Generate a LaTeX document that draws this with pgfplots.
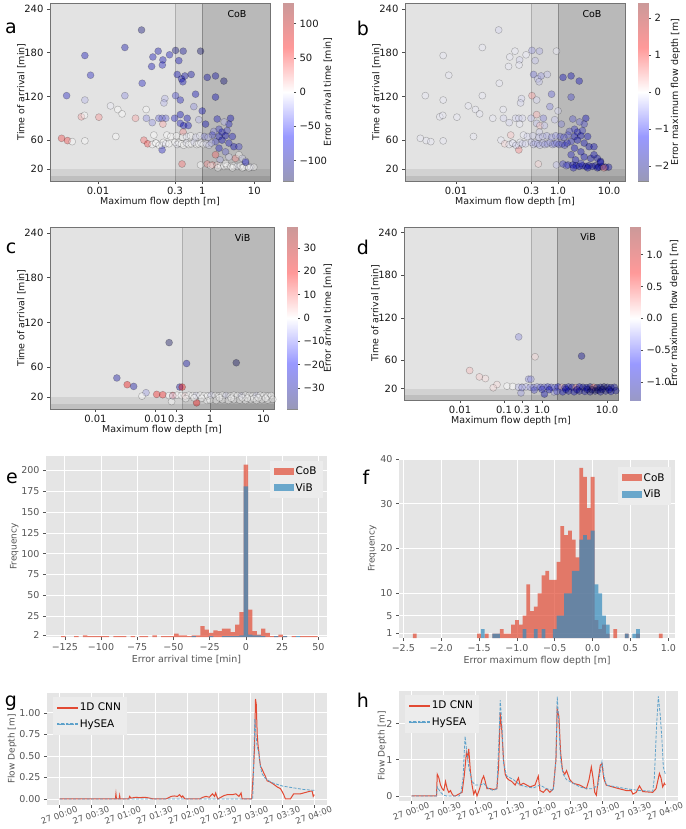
\documentclass[border=0pt]{standalone}
\usepackage{fontspec}
\setmainfont{DejaVu Sans}
\usepackage{pgfplots}
\pgfplotsset{compat=1.18}
\usepackage{pgfplotstable}

\definecolor{ggred}{HTML}{E24A33}
\definecolor{ggblue}{HTML}{348ABD}
\definecolor{hyblue}{HTML}{5DA1CA}
\definecolor{ggbg}{HTML}{E5E5E5}
\definecolor{ggtxt}{HTML}{555555}
\definecolor{ggleg}{HTML}{ECECEC}
\definecolor{spanA}{gray}{0.89}
\definecolor{spanB}{gray}{0.835}
\definecolor{spanC}{gray}{0.725}

\pgfplotsset{
 colormap={seismiclight}{rgb=(0.6,0.6,0.72) rgb=(0.6,0.6,1) rgb=(1,1,1) rgb=(1,0.6,0.6) rgb=(0.8,0.6,0.6)},
 colormap={seismicpts}{rgb=(0,0,0.3) rgb=(0,0,0.72) rgb=(1,1,1) rgb=(0.95,0,0) rgb=(0.5,0,0)},
 scat/.style={scale only axis, anchor=north west, ymin=4, ymax=248,
  ytick={20,60,120,180,240},
  axis line style={black!55}, tick align=outside, tick pos=left,
  major tick length=3pt, tick style={black!70, line width=0.5pt},
  tick label style={font=\fontsize{10}{11}\selectfont, text=black!90},
  label style={font=\fontsize{9.5}{11}\selectfont, text=black!90},
  xlabel={Maximum flow depth [m]}, ylabel={Time of arrival [min]},
  xlabel style={yshift=5pt}, ylabel style={yshift=-8pt},
  colormap name=seismicpts, axis on top,
  /pgf/number format/assume math mode=true},
 pts/.style={scatter, only marks, mark=*, mark size=3.5pt,
  scatter/use mapped color={draw=black, fill=mapped color, fill opacity=0.38, draw opacity=0.25, line width=0.5pt}},
 cbar/.style={scale only axis, anchor=north west, width=10pt, xmin=0, xmax=1, xtick=\empty,
  axis line style={black!45}, ytick pos=right, yticklabel pos=right, tick align=outside,
  major tick length=3pt, tick style={black!70, line width=0.5pt},
  tick label style={font=\fontsize{10}{11}\selectfont, text=black!90},
  label style={font=\fontsize{9.5}{11}\selectfont, text=black!90},
  colormap name=seismiclight, /pgf/number format/assume math mode=true},
 gg/.style={scale only axis, anchor=north west,
  axis background/.style={fill=ggbg}, axis line style={draw=none},
  grid=major, grid style={white, line width=0.7pt},
  tick align=outside, tick pos=left, major tick length=3pt,
  tick style={ggtxt, line width=0.6pt},
  tick label style={text=ggtxt, font=\fontsize{9.5}{11}\selectfont},
  label style={text=ggtxt, font=\fontsize{9}{11}\selectfont},
  /pgf/number format/assume math mode=true},
 gglegend/.style={legend style={at={#1}, fill=ggleg, draw=none,
    font=\fontsize{10.5}{12}\selectfont, row sep=3pt, inner sep=4pt},
    legend cell align=left},
 redbar/.style={ybar, bar width=#1, bar shift=0pt, fill=ggred, fill opacity=0.7, draw=none, area legend,
   legend image code/.code={\fill[ggred, fill opacity=0.7] (0pt,-3.5pt) rectangle (20pt,3.5pt);}},
 bluebar/.style={ybar, bar width=#1, bar shift=0pt, fill=ggblue, fill opacity=0.7, draw=none, area legend,
   legend image code/.code={\fill[ggblue, fill opacity=0.7] (0pt,-3.5pt) rectangle (20pt,3.5pt);}},
 cnnline/.style={color=ggred, line width=1pt,
   legend image code/.code={\fill[ggred] (0pt,-0.6pt) rectangle (20pt,0.6pt);}},
 hyline/.style={color=hyblue, line width=0.8pt, dash pattern=on 3pt off 1.5pt,
   legend image code/.code={\fill[hyblue] (0pt,-0.45pt) rectangle (3pt,0.45pt) (4.5pt,-0.45pt) rectangle (7.5pt,0.45pt) (9pt,-0.45pt) rectangle (12pt,0.45pt) (13.5pt,-0.45pt) rectangle (16.5pt,0.45pt) (18pt,-0.45pt) rectangle (20pt,0.45pt);}},
 tslabels/.style={xtick={0,30,60,90,120,150,180,210,240},
  xticklabels={27 00:00,27 00:30,27 01:00,27 01:30,27 02:00,27 02:30,27 03:00,27 03:30,27 04:00},
  xticklabel style={rotate=20, anchor=north, xshift=-3pt, font=\fontsize{8.5}{10}\selectfont}},
}

\newcommand{\regions}[2]{%
 \addplot[draw=none, fill=spanA, forget plot] coordinates {(#1,4) (0.3,4) (0.3,248) (#1,248)};
 \addplot[draw=none, fill=spanB, forget plot] coordinates {(0.3,4) (1,4) (1,248) (0.3,248)};
 \addplot[draw=none, fill=spanC, forget plot] coordinates {(1,4) (#2,4) (#2,248) (1,248)};
 \addplot[draw=none, fill=black, fill opacity=0.07, forget plot] coordinates {(#1,4) (#2,4) (#2,20) (#1,20)};
 \addplot[draw=none, fill=black, fill opacity=0.09, forget plot] coordinates {(#1,4) (#2,4) (#2,10.5) (#1,10.5)};
 \addplot[black, opacity=0.18, line width=0.6pt, forget plot] coordinates {(0.3,4) (0.3,248)};
 \addplot[black, opacity=0.25, line width=0.6pt, forget plot] coordinates {(1,4) (1,248)};
}

\pgfplotstableread{
x y et ed
0.0685 211 -110 -0.2
0.0328 187 -80 -0.1
0.0056 176 -70 -0.1
0.0072 149 -60 -0.1
0.0025 121 -60 -0.1
0.0056 115 -20 -0.1
0.0328 121 -30 -0.1
0.0705 138 -60 -0.1
0.143 182 -80 -0.1
0.113 174 -70 -0.1
0.107 161 -70 -0.1
0.176 170 -70 -0.2
0.172 163 -60 -0.1
0.236 177 -70 -0.1
0.308 183 -110 -0.5
0.432 182 -90 -0.4
0.356 169 -70 -0.3
0.93 182 -120 -0.1
0.331 150 -70 -0.7
0.40 144 -70 -0.3
0.465 148 -80 -0.5
0.615 150 -80 -0.3
0.425 140 -70 -0.3
1.25 146 -80 -1.2
1.8 148 -80 -1.3
2.6 141 -110 -1.2
1.8 119 -70 -0.9
0.308 121 -50 0.5
0.38 115 -60 -0.2
0.745 123 -70 -0.8
0.69 106 -30 -0.6
1.0 100 -70 -0.2
0.192 117 -20 -0.2
0.184 111 -20 -0.2
0.0174 107 -5 -0.1
0.024 102 0 -0.1
0.029 96 0 -0.1
0.0104 91.5 30 -0.1
0.0048 92 25 -0.1
0.0055 94 0 -0.1
0.0525 90 25 -0.1
0.084 102 0 -0.1
0.085 90 -30 -0.2
0.11 84 -30 -0.2
0.147 90 -40 -0.2
0.17 90 -40 -0.2
0.2 90 -40 -0.2
0.176 82 25 -0.1
0.295 90 -60 -0.3
0.38 95 -70 0.4
0.515 90 -70 -0.6
0.38 83 -60 -0.3
0.44 80 -70 0.3
0.54 80 -70 -0.3
0.43 71 30 -0.2
0.86 88 -20 -0.3
1.16 82 -70 -0.6
1.94 89 -60 -0.8
3.5 90 -70 -1.2
3.25 82 -60 -0.9
2.64 85 -20 -0.7
2.1 75 -50 -1.0
1.67 72 -30 -0.8
2.4 71 -60 -1.1
3.0 73 -50 -1.0
1.56 67 -50 -0.8
2.1 65 -60 -1.2
2.8 66 -70 -1.3
3.8 65 -60 -1.2
1.8 58 -50 -1.0
2.4 60 -70 -1.3
3.25 56 -60 -1.3
4.05 51 -70 -1.4
5.06 51 -50 -1.3
2.1 49 -60 -1.2
2.8 44 -40 -1.3
0.0020 62.5 50 -0.1
0.0026 59.4 50 -0.1
0.0032 58 0 -0.1
0.0056 59 0 -0.1
0.022 65 0 -0.1
0.076 60 40 -0.1
0.09 55 50 0.2
0.118 67 0 0.3
0.17 53 -10 -0.1
0.17 46.6 -60 0.6
0.127 56 0 -0.1
0.21 67 0 -0.1
0.11 54 0 -0.1
0.13 56 0 -0.1
0.15 53 0 -0.2
0.18 57 0 -0.1
0.2 55 -5 -0.2
0.23 55 0 -0.2
0.3 57 0 -0.3
0.33 54 -5 -0.3
0.36 56 0 -0.3
0.4 55 0 -0.4
0.44 53 0 -0.3
0.5 56 -5 -0.4
0.55 54 0 -0.4
0.62 55 0 -0.5
0.7 57 -10 -0.4
0.78 54 0 -0.5
0.86 55 0 -0.6
0.95 56 -5 -0.6
1.05 54 0 -0.7
1.2 55 -10 -0.8
1.35 53 -10 -0.9
1.5 56 -20 -1.0
0.25 65 0 -0.2
0.32 66 0 -0.2
0.42 64 0 -0.3
0.5 65 -5 -0.3
0.6 66 0 -0.4
0.75 64 -10 -0.5
0.9 66 -5 -0.5
1.1 65 -30 -0.7
1.3 64 -20 -0.8
1.8 40 40 -1.1
3.25 37 -10 -1.2
4.36 35 30 -1.4
5.06 40 0 -1.3
5.9 35 -10 -1.4
6.8 31 -20 -1.5
2.2 33 -20 -1.2
0.41 27.3 40 0.2
0.93 26 0 -0.3
1.25 27.3 30 -0.9
1.56 26 30 -1.0
1.94 26 10 -1.2
2.25 25 0 -1.3
2.6 24 0 -1.4
3.0 25 0 -1.3
3.5 24 0 -1.5
4.0 25 0 -1.5
4.7 24 -5 -1.4
5.4 25 0 -1.6
6.3 23 0 -1.7
7.3 24 0 -1.5
8.5 23 -10 -1.6
9.8 23 0 -1.5
2.0 22 0 -1.1
3.8 22 0 -1.3
5.9 22 0 -1.4
7.9 22 0 0.6
1.45 25 0 -0.8
6.79 29.6 -60 -1.3
2.8 28 0 -1.0
}\cob

\pgfplotstableread{
x y et ed
0.171 93 -38 -0.35
0.363 65 -25 0.1
3.1 66 -38 -1.0
0.0179 45.6 -25 0.2
0.028 36.6 20 0.15
0.037 34.3 -25 0.1
0.27 33.4 -25 -0.35
0.30 33.4 20 -0.3
0.063 25.8 -8 0.1
0.053 21.3 0 0.1
0.1 23.6 18 0
0.13 23.1 18 0
0.2 22.2 15 -0.1
0.19 14 0 -0.3
0.56 12.3 20 -0.8
0.87 15.5 0 -0.3
0.17 22 0 -0.2
0.2 21.5 -3 -0.3
0.24 22.5 0 -0.2
0.29 22 0 -0.3
0.34 21.5 3 -0.4
0.4 22.5 0 -0.3
0.47 22 0 -0.5
0.55 22 -3 -0.4
0.65 22.5 0 -0.6
0.77 22 0 -0.5
0.9 21.5 0 -0.4
1.05 22.5 -3 -0.7
1.25 22 0 0.2
1.45 21.5 0 -0.8
1.7 22.5 0 -0.6
2.0 22 -3 -0.9
2.4 21.5 0 0.3
2.8 22.5 0 -0.7
3.3 22 0 -1.0
3.9 21.5 -3 -0.8
4.6 22.5 0 -1.1
5.4 22 0 0.4
6.3 21.5 0 -1.2
7.4 22 -3 -1.0
8.7 22.5 0 -1.3
10.2 22 0 -1.1
12 21.5 0 -0.9
14 22 0 -1.0
1.0 16 0 -0.5
1.3 15.5 0 -0.7
1.7 16.5 0 -0.9
2.2 15.5 0 -0.8
2.8 16.5 0 -1.0
3.6 16 0 -0.9
4.6 15.5 0 -1.1
5.8 16.5 0 -1.2
6.6 18 0 -1.3
7.4 15.5 0 -1.0
9.4 16.5 0 -1.1
12 16 0 -0.8
15 17 0 -1.0
0.35 18 0 -0.5
0.5 19 0 -0.6
0.7 18.5 0 -0.7
1.5 19 0 -0.8
2.5 18.5 0 -0.9
4.0 19 0 -1.0
5.0 18.5 0 -1.3
8.0 19 0 -1.2
11 18.5 0 -1.0
}\vib

\pgfplotstableread{
x n
-126 1
-117 1
-111 2
-108 1
-105 1
-102 1
-99 1
-96 1
-90 1
-87 1
-84 1
-78 1
-72 1
-69 1
-63 2
-57 1
-54 1
-51 1
-48 4
-45 2
-42 2
-39 1
-36 2
-33 2
-30 13
-27 9
-24 5
-21 8
-18 7
-15 10
-12 10
-9 6
-6 15
-3 30
0 207
3 33
6 7
9 3
12 10
15 5
18 1
21 1
24 3
27 1
33 1
39 1
42 1
45 1
48 1
}\ecob

\pgfplotstableread{
x n
-36 1
-24 1
-15 1
-12 1
-9 1
-6 1
-3 2
0 181
3 3
6 2
9 2
12 1
21 1
27 1
36 1
}\evib

\pgfplotstableread{
x n
-2.35 1
-1.50 1
-1.40 1
-1.30 1
-1.25 1
-1.20 2
-1.15 1
-1.10 1
-1.05 3
-1.00 4
-0.95 3
-0.90 5
-0.85 12
-0.80 6
-0.75 7
-0.70 10
-0.65 14
-0.60 15
-0.55 13
-0.50 13
-0.45 17
-0.40 25
-0.35 23
-0.30 24
-0.25 22
-0.20 18
-0.15 38
-0.10 36
-0.05 29
0.00 36
0.05 4
0.10 2
0.15 3
0.20 1
0.30 2
0.45 1
0.60 1
0.90 1
}\fcob

\pgfplotstableread{
x n
-1.45 2
-1.30 1
-1.25 1
-0.90 2
-0.75 2
-0.65 2
-0.50 2
-0.45 5
-0.40 5
-0.35 10
-0.30 10
-0.25 15
-0.20 15
-0.15 22
-0.10 23
-0.05 22
0.00 24
0.05 12
0.10 10
0.15 5
0.20 3
0.45 1
0.55 1
0.60 2
}\fvib

\pgfplotstableread{
t d
0 0
52.5 0
53 0.06
53.5 0
56 0
56.5 0.04
57 0
65 0
66 0.03
67 0.01
72 0.02
75 0.015
80 0.02
85 0.01
88 0
100 0
102 0.01
105 0.03
108 0.035
111 0.03
113 0.05
115 0.02
116 0.035
118 0
132 0
135 0.02
138 0.03
141 0.02
144 0.06
146 0.03
147 0.07
149 0
155 0.04
158 0.05
163 0.05
166 0.06
169 0.03
171 0.07
172 0
181 0
182.5 0.3
183.7 0.6
184.6 1.16
185.3 1.1
186.2 0.75
187 0.62
187.7 0.55
188.5 0.45
189.3 0.38
191 0.34
192.4 0.3
194 0.26
195.6 0.21
198 0.2
201.8 0.17
205 0.14
208.1 0.12
210 0.08
211.2 0.05
212.8 0
217.5 0
219 0.03
220.6 0.06
224 0.06
227 0.06
230 0.07
233 0.08
236 0.09
238 0.09
239 0.03
240 0.05
}\gcnn

\pgfplotstableread{
t d
0 0
182 0
183 0.5
184 0.93
185 0.75
186 0.62
187.5 0.55
189 0.4
190.5 0.3
193 0.25
196 0.22
200 0.19
205 0.17
210 0.15
215 0.14
220 0.13
225 0.12
230 0.11
235 0.105
240 0.1
}\ghy

\pgfplotstableread{
t d
0 0
23.5 0
24.2 0.6
25 0.55
25.7 0.5
27.3 0.3
28.9 0.2
30.4 0.15
32 0.4
33.6 0.2
35.1 0.1
36.7 0.15
38.3 0.05
39.8 0
41.4 0
44.5 0.05
47.7 0.1
49.9 0.6
51.8 1.2
53 1.05
54 1.3
55.5 0.7
57.1 0.3
58.7 0.05
60.2 0.15
61.8 0
64.3 0.2
66.5 0.45
68.1 0.55
69.6 0.4
71.2 0.2
74.4 0.2
77.5 0.18
80.6 0.2
82.2 0.8
83.8 2.3
85.3 1.8
86.9 1.0
88.5 0.6
90 0.5
91.6 0.45
94.7 0.4
97.9 0.3
101 0.5
102.6 0.3
105.7 0.35
108.9 0.3
112 0.25
116.7 0.3
119.8 0.55
121.4 0.15
124.5 0.1
127.7 0.2
130.8 0.1
134 0.2
136.5 1.0
137.7 2.4
139.3 2.2
140.9 1.2
142.7 0.7
144.9 0.6
146.5 0.7
149.6 0.45
152.8 0.35
159.1 0.3
165.3 0.2
167.8 0.45
170 0.8
171.6 0.5
173.2 0.1
174.7 0.02
176.3 0.4
178.5 0.85
180.1 0.9
181.6 0.5
184.1 0.3
193.6 0.22
203 0.15
207.7 0.15
209.3 0.05
212.4 0.1
215.5 0.28
218.7 0.12
228.1 0.1
231.2 0.2
234.4 0.62
235.9 0.5
237.5 0.25
239.1 0.35
240 0.3
}\hcnn

\pgfplotstableread{
t d
0 0
23.5 0
24.2 0.25
27.3 0.1
30.4 0.02
33 0
45 0
46.7 0.1
48.6 0.5
50.5 1.65
51.8 1.3
54 0.8
57.1 0.4
60.2 0.3
65 0.3
68.1 0.35
72.8 0.2
77.5 0.15
80.6 0.2
82.5 1.5
83.8 2.65
85.3 2.0
86.9 0.9
90 0.55
96.3 0.45
102.6 0.3
108.9 0.25
115.1 0.22
121.4 0.3
127.7 0.2
134 0.15
136.5 1.0
137.7 2.75
139.3 2.0
140.9 1.0
143.4 0.6
146.5 0.45
152.8 0.35
159.1 0.25
165.3 0.2
171.6 0.2
176.3 0.3
178.5 0.7
180.1 0.95
181.6 0.6
184.1 0.3
193.6 0.25
203 0.2
215.5 0.15
228.1 0.13
229.6 0.5
231.8 2.0
233.4 2.75
235.3 2.2
236.9 1.5
238.1 0.8
240 0.6
}\hhy

\begin{document}
\begin{tikzpicture}
\useasboundingbox (0,0) rectangle (685pt,-829pt);

% ---------- a ----------
\begin{semilogxaxis}[scat, at={(50pt,-3pt)}, width=220pt, height=178pt,
  xmin=0.0012, xmax=20, xtick={0.01,0.3,1,10}, xticklabels={0.01,0.3,1,10},
  point meta min=-130, point meta max=130]
\regions{0.0012}{20}
\addplot[pts, point meta=\thisrow{et}] table[x=x,y=y] {\cob};
\node[font=\fontsize{9.5}{11}\selectfont] at (rel axis cs:0.85,0.94) {CoB};
\end{semilogxaxis}
\begin{axis}[cbar, at={(283pt,-3pt)}, height=178pt, ymin=-130, ymax=130,
  point meta min=-130, point meta max=130,
  ytick={-100,-50,0,50,100}, yticklabels={−100,−50,0,50,100},
  ylabel={Error arrival time [min]},
  ylabel style={at={(axis description cs:4.5,0.5)}, anchor=center}]
\addplot[surf, shader=interp, point meta=y] coordinates {
(0,-130) (1,-130)

(0,130) (1,130)
};
\end{axis}

% ---------- b ----------
\begin{semilogxaxis}[scat, at={(405pt,-3pt)}, width=220pt, height=178pt,
  xmin=0.001, xmax=20.5, xtick={0.01,0.3,1,10}, xticklabels={0.01,0.3,1.0,10.0},
  point meta min=-2.4, point meta max=2.4]
\regions{0.001}{20.5}
\addplot[pts, point meta=\thisrow{ed}] table[x=x,y=y] {\cob};
\node[font=\fontsize{9.5}{11}\selectfont] at (rel axis cs:0.85,0.94) {CoB};
\end{semilogxaxis}
\begin{axis}[cbar, at={(638pt,-3pt)}, height=178pt, ymin=-2.4, ymax=2.4,
  point meta min=-2.4, point meta max=2.4,
  ytick={-2,-1,0,1,2}, yticklabels={−2,−1,0,1,2},
  ylabel={Error maximum flow depth [m]},
  ylabel style={at={(axis description cs:3.75,0.5)}, anchor=center}]
\addplot[surf, shader=interp, point meta=y] coordinates {
(0,-2.4) (1,-2.4)

(0,2.4) (1,2.4)
};
\end{axis}

% ---------- c ----------
\begin{semilogxaxis}[scat, at={(50pt,-227pt)}, width=224pt, height=182pt,
  xmin=0.001, xmax=15.8, xtick={0.0071,0.095,0.23,1,10}, xticklabels={0.01,0.01,0.3,1,10},
  point meta min=-39, point meta max=39]
\regions{0.001}{15.8}
\addplot[pts, point meta=\thisrow{et}] table[x=x,y=y] {\vib};
\node[font=\fontsize{9.5}{11}\selectfont] at (rel axis cs:0.86,0.94) {ViB};
\end{semilogxaxis}
\begin{axis}[cbar, at={(287pt,-227pt)}, height=182pt, ymin=-39, ymax=39,
  point meta min=-39, point meta max=39,
  ytick={-30,-20,-10,0,10,20,30}, yticklabels={−30,−20,−10,0,10,20,30},
  ylabel={Error arrival time [min]},
  ylabel style={at={(axis description cs:4.1,0.5)}, anchor=center}]
\addplot[surf, shader=interp, point meta=y] coordinates {
(0,-39) (1,-39)

(0,39) (1,39)
};
\end{axis}

% ---------- d ----------
\begin{semilogxaxis}[scat, at={(404pt,-227pt)}, width=214pt, height=173pt,
  xmin=0.00087, xmax=16.6, xtick={0.0115,0.087,0.2,0.5,10}, xticklabels={0.01,0.1,0.3,1.0,10.0},
  point meta min=-1.43, point meta max=1.43]
\regions{0.00087}{16.6}
\addplot[pts, point meta=\thisrow{ed}] table[x=x,y=y] {\vib};
\node[font=\fontsize{9.5}{11}\selectfont] at (rel axis cs:0.86,0.94) {ViB};
\end{semilogxaxis}
\begin{axis}[cbar, at={(630pt,-227pt)}, height=173pt, ymin=-1.28, ymax=1.43,
  point meta min=-1.43, point meta max=1.43,
  ytick={-1,-0.5,0,0.5,1}, yticklabels={−1.0,−0.5,0.0,0.5,1.0},
  ylabel={Error maximum flow depth [m]},
  ylabel style={at={(axis description cs:4.45,0.5)}, anchor=center}]
\addplot[surf, shader=interp, point meta=y] coordinates {
(0,-1.28) (1,-1.28)

(0,1.43) (1,1.43)
};
\end{axis}

% ---------- e ----------
\begin{axis}[gg, at={(46pt,-456pt)}, width=281pt, height=181pt,
  xmin=-138, xmax=56, ymin=0, ymax=217.4,
  xtick={-125,-100,-75,-50,-25,0,25,50}, xticklabels={−125,−100,−75,−50,−25,0,25,50},
  ytick={2,25,50,75,100,125,150,175,200},
  xlabel={Error arrival time [min]}, ylabel={Frequency},
  xlabel style={font=\fontsize{9.5}{11}\selectfont, yshift=2pt},
  ylabel style={yshift=-4pt},
  gglegend={(0.985,0.975)}, legend style={anchor=north east}]
\addplot[redbar=3] table[x=x,y=n] {\ecob};
\addplot[bluebar=3] table[x=x,y=n] {\evib};
\legend{CoB,ViB}
\end{axis}

% ---------- f ----------
\begin{axis}[gg, at={(399pt,-459pt)}, width=276pt, height=179pt,
  xmin=-2.557, xmax=1.088, ymin=0, ymax=40,
  xtick={-2.5,-2,-1.5,-1,-0.5,0,0.5,1}, xticklabels={−2.5,−2.0,−1.5,−1.0,−0.5,0.0,0.5,1.0},
  ytick={1,5,10,20,30,40},
  xlabel={Error maximum flow depth [m]}, ylabel={Frequency},
  xlabel style={font=\fontsize{9.5}{11}\selectfont, yshift=2pt},
  ylabel style={yshift=-3pt},
  gglegend={(0.985,0.955)}, legend style={anchor=north east}]
\addplot[redbar=0.05] table[x=x,y=n] {\fcob};
\addplot[bluebar=0.05] table[x=x,y=n] {\fvib};
\legend{CoB,ViB}
\end{axis}

% ---------- g ----------
\begin{axis}[gg, tslabels, at={(47pt,-693pt)}, width=280pt, height=112pt,
  xmin=-12, xmax=252, ymin=-0.07, ymax=1.23,
  ytick={0,0.25,0.5,0.75,1}, yticklabels={0.00,0.25,0.50,0.75,1.00},
  ylabel={Flow Depth [m]}, ylabel style={yshift=-4pt},
  gglegend={(0.02,0.965)}, legend style={anchor=north west}]
\addplot[cnnline] table[x=t,y=d] {\gcnn};
\addplot[hyline] table[x=t,y=d] {\ghy};
\legend{1D CNN,HySEA}
\end{axis}

% ---------- h ----------
\begin{axis}[gg, tslabels, at={(399pt,-691pt)}, width=279pt, height=110pt,
  xmin=-12, xmax=252, ymin=-0.14, ymax=2.9,
  ytick={0,1,2},
  ylabel={Flow Depth [m]}, ylabel style={yshift=-7pt},
  gglegend={(0.02,0.965)}, legend style={anchor=north west}]
\addplot[cnnline] table[x=t,y=d] {\hcnn};
\addplot[hyline] table[x=t,y=d] {\hhy};
\legend{1D CNN,HySEA}
\end{axis}

% panel letters
\begin{scope}[every node/.style={font=\fontsize{19}{19}\selectfont}]
\node at (11pt,-28pt) {a};
\node at (363pt,-28pt) {b};
\node at (11pt,-248pt) {c};
\node at (363pt,-247pt) {d};
\node at (12pt,-478pt) {e};
\node at (366pt,-477pt) {f};
\node at (11pt,-703pt) {g};
\node at (363pt,-700pt) {h};
\end{scope}
\end{tikzpicture}
\end{document}
